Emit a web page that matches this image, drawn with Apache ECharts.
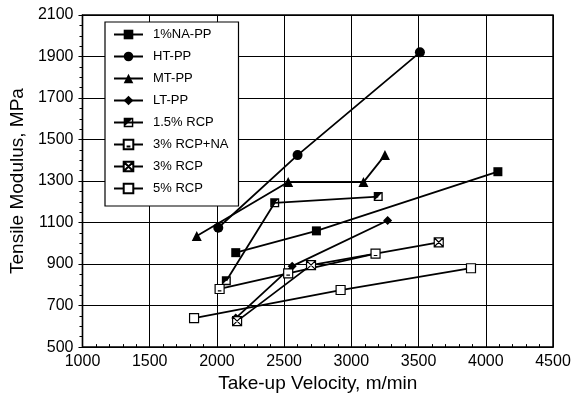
<!DOCTYPE html>
<html>
<head>
<meta charset="utf-8">
<script src="https://cdn.jsdelivr.net/npm/echarts@6/dist/echarts.min.js"></script>
<style>
    html, body { margin: 0; padding: 0; background: #fff; }
    #chart { width: 574px; height: 398px; }
</style>
</head>
<body>
<div id="chart"></div>
<script>
// values: [take-up velocity, tensile modulus]
var na1PP = [[2140, 955], [2740, 1060], [4090, 1345]];
var htPP = [[2010, 1075], [2600, 1425], [3510, 1920]];
var mtPP = [[1850, 1035], [2530, 1295], [3090, 1295], [3250, 1425]];
var ltPP = [[2140, 640], [2560, 890], [3270, 1110]];
var rcp15 = [[2070, 820], [2430, 1195], [3200, 1225]];
var rcp3NA = [[2020, 780], [2530, 855], [3180, 950]];
var rcp3 = [[2150, 625], [2700, 895], [3650, 1005]];
var rcp5 = [[1830, 640], [2920, 775], [3890, 880]];

var xTicks = [1000, 4500, 500];
var yTicks = [500, 2100, 200];

// marker shapes
var halfSquare = 'path://M0 0L10 0L10 10L0 10ZM1.5 1.5L1.5 8.5L8.5 8.5L8.5 1.5ZM1.5 1.5L8.5 1.5L1.5 8.5Z';
var tickSquare = 'path://M0 0L10 0L10 10L0 10ZM3 7L7 7';
var crossSquare = 'path://M0 0L10 0L10 10L0 10ZM0 0L10 10M10 0L0 10';

var Chart = function () {

    var makeSeries = function (name, data, symbol, size, open) {
        return {
            name: name,
            type: 'line',
            data: data,
            symbol: symbol,
            symbolSize: size,
            showAllSymbol: true,
            lineStyle: { color: '#000', width: 1.8 },
            itemStyle: open
                ? { color: '#fff', borderColor: '#000', borderWidth: 1.2 }
                : { color: '#000', borderWidth: 0 },
            emphasis: { disabled: true },
            z: 3
        };
    };

    var plain = function (v) { return String(v); };

    var init = function () {
        var options = {
            animation: false,
            grid: {
                left: 82,
                right: 21,
                top: 15,
                bottom: 46,
                show: true,
                borderColor: '#000',
                borderWidth: 1.5,
                backgroundColor: 'transparent'
            },
            legend: {
                orient: 'vertical',
                left: 105,
                top: 22,
                padding: [6, 10, 11, 8],
                itemWidth: 29,
                itemHeight: 12,
                itemGap: 9,
                backgroundColor: '#fff',
                borderColor: '#000',
                borderWidth: 1.2,
                textStyle: {
                    fontFamily: 'Liberation Sans',
                    fontSize: 13,
                    color: '#000',
                    padding: [0, 0, 0, 5]
                },
                data: ['1%NA-PP', 'HT-PP', 'MT-PP', 'LT-PP', '1.5% RCP', '3% RCP+NA', '3% RCP', '5% RCP']
            },
            xAxis: {
                type: 'value',
                min: xTicks[0],
                max: xTicks[1],
                interval: xTicks[2],
                name: 'Take-up Velocity, m/min',
                nameLocation: 'middle',
                nameGap: 23,
                nameTextStyle: { fontFamily: 'Liberation Sans', fontSize: 19, color: '#000' },
                axisLine: { lineStyle: { color: '#000', width: 1.2 } },
                axisTick: { inside: true, length: 5, lineStyle: { color: '#000' } },
                minorTick: { show: true, splitNumber: 5, length: 3, lineStyle: { color: '#000' } },
                axisLabel: { fontFamily: 'Liberation Sans', fontSize: 16, color: '#000', margin: 6, formatter: plain },
                splitLine: { lineStyle: { color: '#000', width: 1 } }
            },
            yAxis: {
                type: 'value',
                min: yTicks[0],
                max: yTicks[1],
                interval: yTicks[2],
                name: 'Tensile Modulus, MPa',
                nameLocation: 'middle',
                nameGap: 50,
                nameTextStyle: { fontFamily: 'Liberation Sans', fontSize: 19, color: '#000' },
                axisLine: { show: true, lineStyle: { color: '#000', width: 1.2 } },
                axisTick: { show: true, inside: false, length: 4, lineStyle: { color: '#000' } },
                minorTick: { show: true, splitNumber: 4, length: 3, lineStyle: { color: '#000' } },
                axisLabel: { fontFamily: 'Liberation Sans', fontSize: 16, color: '#000', margin: 9, formatter: plain },
                splitLine: { lineStyle: { color: '#000', width: 1 } }
            },
            series: [
                makeSeries('1%NA-PP', na1PP, 'rect', 9, false),
                makeSeries('HT-PP', htPP, 'circle', 10, false),
                makeSeries('MT-PP', mtPP, 'triangle', 10, false),
                makeSeries('LT-PP', ltPP, 'diamond', 9, false),
                makeSeries('1.5% RCP', rcp15, halfSquare, 9, false),
                makeSeries('3% RCP+NA', rcp3NA, tickSquare, 9, true),
                makeSeries('3% RCP', rcp3, crossSquare, 9, true),
                makeSeries('5% RCP', rcp5, 'rect', 9, true)
            ]
        };
        var chart = echarts.init(document.getElementById('chart'));
        chart.setOption(options);
    };

    return { init: init };
}();

Chart.init();
</script>
</body>
</html>
